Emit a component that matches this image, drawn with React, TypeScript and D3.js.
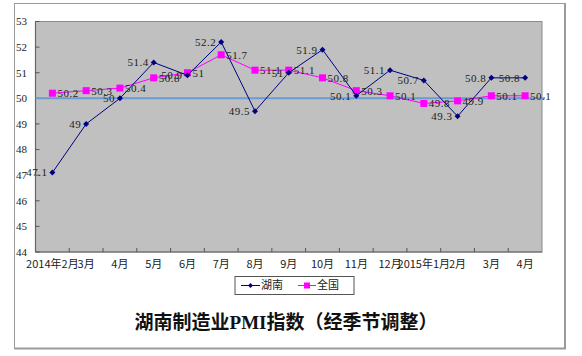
import React from "react";
import * as d3 from "d3";

const categories = ["2014年2月", "3月", "4月", "5月", "6月", "7月", "8月", "9月", "10月", "11月", "12月", "2015年1月", "2月", "3月", "4月"];
const hunan = [47.1, 49, 50, 51.4, 50.9, 52.2, 49.5, 51, 51.9, 50.1, 51.1, 50.7, 49.3, 50.8, 50.8];
const national = [50.2, 50.3, 50.4, 50.8, 51, 51.7, 51.1, 51.1, 50.8, 50.3, 50.1, 49.8, 49.9, 50.1, 50.1];
const yTicks = [44, 45, 46, 47, 48, 49, 50, 51, 52, 53];
const seriesNames = ["湖南", "全国"];
const title = "湖南制造业PMI指数（经季节调整）";
const refLine = 50;

const W = 582, H = 356;
const PL = 35.5, PR = 542, PT = 21.5, PB = 252;
const FONT = "'Liberation Serif', 'Noto Sans CJK SC', serif";
const LFONT = "'Noto Sans CJK SC', sans-serif";

export default function App() {
  const x = d3.scaleBand<number>().domain(d3.range(categories.length)).range([PL, PR]).padding(0);
  const y = d3.scaleLinear().domain([44, 53]).range([PB, PT]);
  const cx = (i: number) => (x(i) as number) + x.bandwidth() / 2;
  const line = d3.line<number>().x((_, i) => cx(i)).y((v) => y(v));
  const fmt = (v: number) => String(v);
  const diamond = (px: number, py: number, r = 3) => `M${px},${py - r}L${px + r},${py}L${px},${py + r}L${px - r},${py}Z`;

  return (
    <svg width={W} height={H} style={{ position: "absolute", left: 0, top: 0, background: "#fff" }}>
      {/* outer frame */}
      <line x1={14.5} y1={3} x2={14.5} y2={349} stroke="#9a9a9a" strokeWidth={1} />
      <line x1={14.5} y1={3.5} x2={565} y2={3.5} stroke="#9a9a9a" strokeWidth={1} />
      <line x1={565} y1={3} x2={565} y2={349} stroke="#9a9a9a" strokeWidth={2} />
      <line x1={14.5} y1={348.5} x2={566} y2={348.5} stroke="#9a9a9a" strokeWidth={2} />

      {/* plot area */}
      <rect x={PL} y={PT} width={PR - PL} height={PB - PT} fill="#c0c0c0" stroke="#8a8a8a" strokeWidth={1} />
      <line x1={PL} y1={PT} x2={PL} y2={PB} stroke="#666" strokeWidth={1.2} />
      <line x1={PL} y1={PB} x2={PR} y2={PB} stroke="#666" strokeWidth={1.2} />

      {/* y ticks */}
      {yTicks.map((t) => (
        <g key={t}>
          <line x1={PL} x2={PL + 4} y1={y(t)} y2={y(t)} stroke="#555" />
          <text x={27} y={y(t)} dy="0.35em" textAnchor="end" fontSize={11} fontFamily={FONT} fill="#222">{t}</text>
        </g>
      ))}

      {/* x ticks */}
      {d3.range(1, categories.length).map((i) => (
        <line key={i} x1={x(i) as number} x2={x(i) as number} y1={PB} y2={PB - 4} stroke="#555" />
      ))}
      {categories.map((c, i) => (
        <text key={i} x={cx(i)} y={264} dy="0.35em" textAnchor="middle" fontSize={11} fontFamily={LFONT} fill="#222">{c}</text>
      ))}

      {/* reference line */}
      <line x1={PL} x2={545} y1={y(refLine)} y2={y(refLine)} stroke="#6a9bd1" strokeWidth={2} />

      {/* national */}
      <path d={line(national) as string} fill="none" stroke="#ff00ff" strokeWidth={1} />
      {national.map((v, i) => (
        <rect key={i} x={cx(i) - 3.5} y={y(v) - 3.5} width={7} height={7} fill="#ff00ff" />
      ))}

      {/* hunan */}
      <path d={line(hunan) as string} fill="none" stroke="#000080" strokeWidth={1} />
      {hunan.map((v, i) => (
        <path key={i} d={diamond(cx(i), y(v))} fill="#000080" />
      ))}

      {/* labels */}
      {national.map((v, i) => (
        <text key={"n" + i} x={cx(i) + 5} y={y(v)} dy="0.35em" fontSize={11} fontFamily={FONT} fill="#222" letterSpacing={0.5}>{fmt(v)}</text>
      ))}
      {hunan.map((v, i) => (
        <text key={"h" + i} x={cx(i) - 5} y={y(v)} dy="0.35em" textAnchor="end" fontSize={11} fontFamily={FONT} fill="#222" letterSpacing={0.5}>{fmt(v)}</text>
      ))}

      {/* legend */}
      <rect x={235} y={276.5} width={119} height={18} fill="#fff" stroke="#555" strokeWidth={1} />
      <line x1={241} x2={260} y1={285.5} y2={285.5} stroke="#000080" />
      <path d={diamond(250.5, 285.5, 2.5)} fill="#000080" />
      <text x={261} y={285.5} dy="0.35em" fontSize={11} fontFamily={LFONT} fill="#222">{seriesNames[0]}</text>
      <line x1={298} x2={316} y1={285.5} y2={285.5} stroke="#ff00ff" />
      <rect x={304} y={282.5} width={6} height={6} fill="#ff00ff" />
      <text x={317} y={285.5} dy="0.35em" fontSize={11} fontFamily={LFONT} fill="#222">{seriesNames[1]}</text>

      {/* title */}
      <text x={286} y={322} dy="0.35em" textAnchor="middle" fontSize={19} fontWeight={600} fontFamily={FONT} fill="#111">{title}</text>
    </svg>
  );
}
